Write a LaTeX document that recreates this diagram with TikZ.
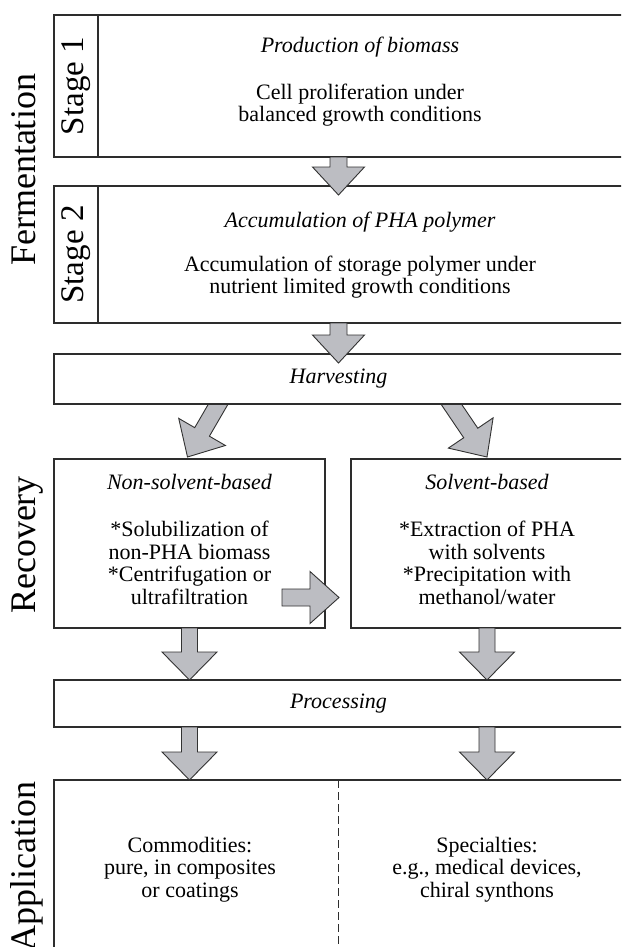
\documentclass[tikz,border=0pt]{standalone}
\usepackage{fontspec}
\setmainfont{Liberation Serif}
\usetikzlibrary{calc}
\definecolor{linegray}{RGB}{45,45,45}
\definecolor{arrowfill}{RGB}{188,189,194}
\definecolor{arrowline}{RGB}{50,50,50}
\tikzset{
  box/.style={draw=linegray, line width=1.3pt, fill=white, inner sep=0pt, outer sep=0pt, rectangle, anchor=north west},
  sepline/.style={draw=linegray, line width=1.3pt},
  divline/.style={draw=linegray, line width=1pt, dash pattern=on 8pt off 4pt},
  bodytext/.style={font=\fontsize{22}{22.5}\selectfont, align=center, inner sep=0pt, anchor=base},
  titletext/.style={font=\fontsize{22}{22.5}\selectfont\itshape, inner sep=0pt, anchor=base},
  midtitle/.style={font=\fontsize{22}{22.5}\selectfont\itshape, inner sep=0pt},
  biglabel/.style={font=\fontsize{36}{36}\selectfont, rotate=90, inner sep=0pt},
  stagelabel/.style={font=\fontsize{33}{33}\selectfont, rotate=90, inner sep=0pt},
  blockarrow/.style={fill=arrowfill, draw=arrowline, line width=0.9pt, line join=miter},
}
% #1 start, #2 tip, #3 half shaft width, #4 half head width, #5 head length
\newcommand{\blockarr}[5]{%
  \coordinate (bah) at ($(#2)!#5!(#1)$);
  \draw[blockarrow] ($(#1)!#3!90:(#2)$) -- ($(bah)!#3!90:(#2)$) -- ($(bah)!#4!90:(#2)$) -- (#2)
     -- ($(bah)!#4!-90:(#2)$) -- ($(bah)!#3!-90:(#2)$) -- ($(#1)!#3!-90:(#2)$) -- cycle;}
\begin{document}
\begin{tikzpicture}[x=1pt, y=-1pt]
\path[use as bounding box, clip] (0,0) rectangle (621,947);
\fill[white] (0,0) rectangle (621,947);

% diagonal arrows (drawn below the harvesting box)
\coordinate (dls) at (227,389);
\coordinate (drs) at (441,389);
\coordinate (dlt) at (187.5,457);
\coordinate (drt) at (487,457);
\blockarr{dls}{dlt}{8.5pt}{27pt}{29pt}
\blockarr{drs}{drt}{8.5pt}{27pt}{29pt}

% boxes
\node[box, minimum width=569pt, minimum height=142pt] (s1) at (54,15) {};
\node[box, minimum width=569pt, minimum height=137pt] (s2) at (54,186) {};
\node[box, minimum width=569pt, minimum height=50pt] (harv) at (54,354) {};
\node[box, minimum width=271pt, minimum height=169pt] (nons) at (54,459) {};
\node[box, minimum width=272pt, minimum height=169pt] (solv) at (351,459) {};
\node[box, minimum width=569pt, minimum height=47pt] (proc) at (54,680) {};
\node[box, minimum width=569pt, minimum height=200pt] (appl) at (54,780) {};

% stage columns
\draw[sepline] ($(s1.north west)+(44,0)$) -- ($(s1.south west)+(44,0)$);
\draw[sepline] ($(s2.north west)+(44,0)$) -- ($(s2.south west)+(44,0)$);
\node[stagelabel] (st1) at (76,86) {Stage 1};
\node[stagelabel] (st2) at (76,254.5) {Stage 2};

% side labels
\node[biglabel, anchor=base] (ferm) at (35,170) {Fermentation};
\node[biglabel, anchor=base] (reco) at (35,545) {Recovery};
\node[biglabel, anchor=base east] (appll) at (35,781) {Application};

% stage texts (anchor=base is the baseline of the last line)
\node[titletext] (t1) at (360,53) {Production of biomass};
\node[bodytext] (b1) at (360,121.5) {Cell proliferation under\\balanced growth conditions};
\node[titletext] (t2) at (360,227) {Accumulation of PHA polymer};
\node[bodytext] (b2) at (360,293.5) {Accumulation of storage polymer under\\nutrient limited growth conditions};

\node[midtitle] (th) at (harv.center) {Harvesting};

\node[titletext] (tn) at (189.5,489.5) {Non-solvent-based};
\node[bodytext] (bn) at (189.5,604) {*Solubilization of\\non-PHA biomass\\*Centrifugation or\\ultrafiltration};
\node[titletext] (ts) at (487,489.5) {Solvent-based};
\node[bodytext] (bs) at (487,604) {*Extraction of PHA\\with solvents\\*Precipitation with\\methanol/water};

\node[midtitle] (tp) at (proc.center) {Processing};

\draw[divline] (appl.north) -- (appl.south);
\node[bodytext] (bc) at (190,897) {Commodities:\\pure, in composites\\or coatings};
\node[bodytext] (bsp) at (487,897) {Specialties:\\e.g., medical devices,\\chiral synthons};

% vertical arrows
\coordinate (a1t) at ($(s2.north)+(0,9)$);
\blockarr{s1.south}{a1t}{8.5pt}{26pt}{28pt}
\coordinate (a2t) at ($(harv.north)+(0,9)$);
\blockarr{s2.south}{a2t}{8.5pt}{26pt}{28pt}

\coordinate (p1s) at (nons.south);
\coordinate (p1t) at (nons.south |- proc.north);
\blockarr{p1s}{p1t}{8pt}{27.5pt}{28pt}
\coordinate (p2s) at (solv.south);
\coordinate (p2t) at (solv.south |- proc.north);
\blockarr{p2s}{p2t}{8pt}{27.5pt}{28pt}

\coordinate (q1s) at (nons.south |- proc.south);
\coordinate (q1t) at (nons.south |- appl.north);
\blockarr{q1s}{q1t}{8pt}{27.5pt}{28pt}
\coordinate (q2s) at (solv.south |- proc.south);
\coordinate (q2t) at (solv.south |- appl.north);
\blockarr{q2s}{q2t}{8pt}{27.5pt}{28pt}

% horizontal arrow
\coordinate (hs) at (282,597.5);
\coordinate (ht) at ($(solv.west |- hs)+(-12,0)$);
\blockarr{hs}{ht}{8.5pt}{26pt}{29pt}
\end{tikzpicture}
\end{document}
